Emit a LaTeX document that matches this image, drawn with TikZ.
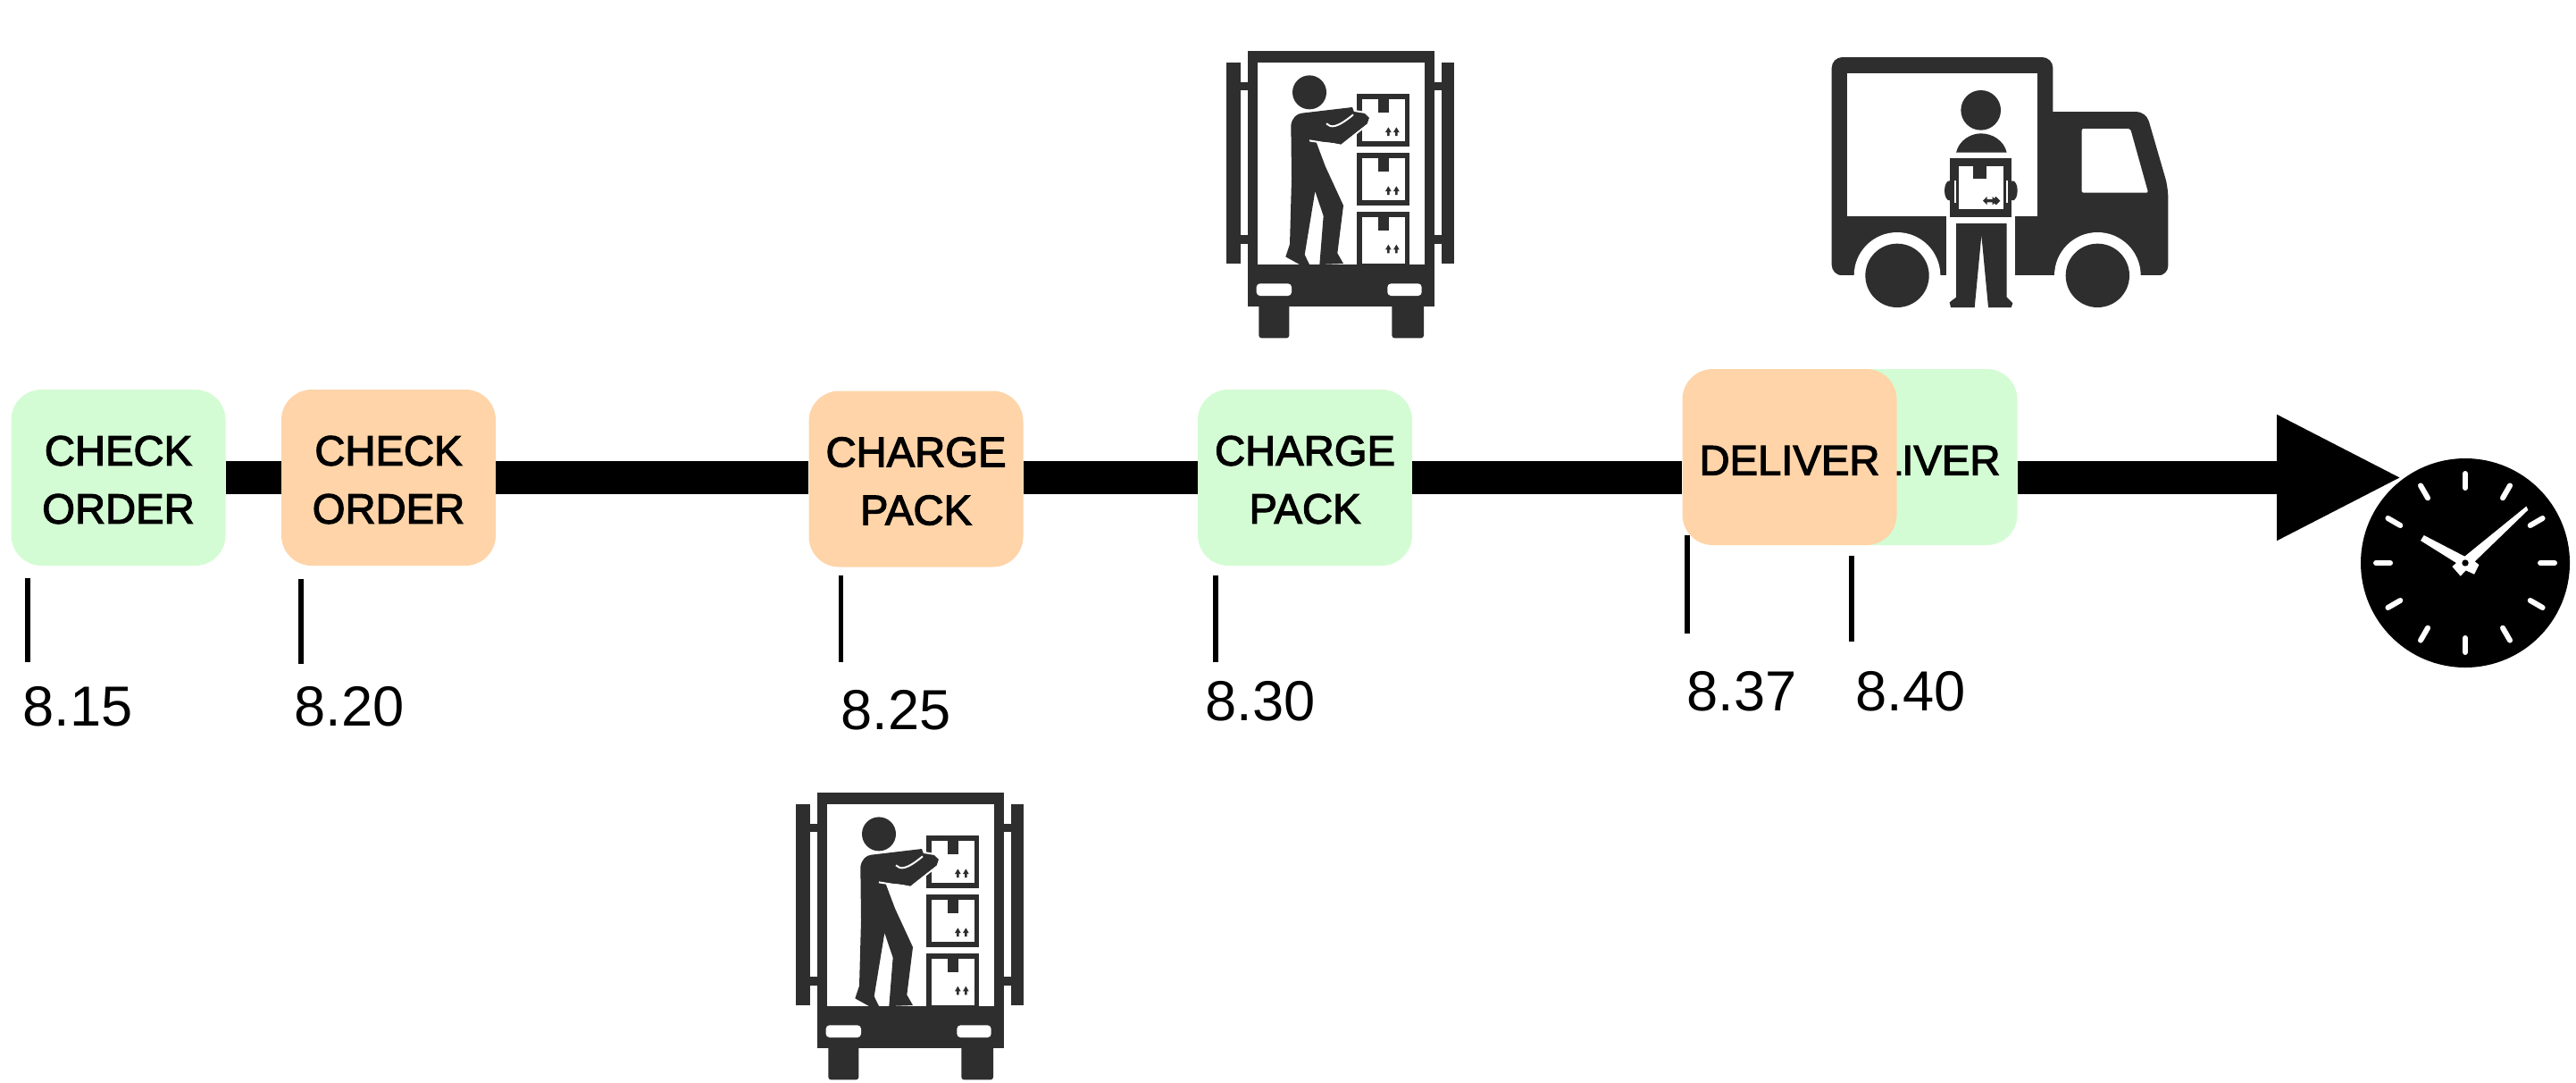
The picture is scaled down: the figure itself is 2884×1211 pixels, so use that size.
\documentclass[tikz,border=0pt]{standalone}
\usepackage{fontspec}
\setmainfont{Liberation Sans}
\usetikzlibrary{arrows.meta}
\definecolor{boxgreen}{RGB}{212,252,212}
\definecolor{boxorange}{RGB}{254,212,168}
\definecolor{icondark}{RGB}{46,46,46}
\newcommand{\topstrut}{\rule{0pt}{19pt}}
\newcommand{\heavy}[1]{\special{pdf:code 2 Tr 0.6 w}#1\special{pdf:code 0 Tr 1 w}}
\tikzset{
  taskbox/.style={minimum width=120pt,minimum height=98.5pt,inner sep=0pt,rounded corners=17pt,align=center,
    font=\fontsize{23.6}{32.5}\selectfont},
  greenbox/.style={taskbox,fill=boxgreen},
  orangebox/.style={taskbox,fill=boxorange},
  singleline/.style={text height=20pt},
  timebar/.style={line width=18.5pt,black},
  timetick/.style={line width=2.8pt,black},
  timelabel/.style={inner sep=0pt,font=\fontsize{31.6}{36}\selectfont},
  dark/.style={fill=icondark,draw=none},
  blank/.style={fill=white,draw=none},
  clocktick/.style={white,line width=3pt,line cap=round},
}
\newcommand{\boxarrows}[3]{%
  \fill[icondark] (#1-10,#2+2) -- (#1,#2-15) -- (#1+10,#2+2) -- (#1+4,#2+2) -- (#1+4,#2+14) -- (#1-4,#2+14) -- (#1-4,#2+2) -- cycle;
  \fill[icondark] (#3-10,#2+2) -- (#3,#2-15) -- (#3+10,#2+2) -- (#3+4,#2+2) -- (#3+4,#2+14) -- (#3-4,#2+14) -- (#3-4,#2+2) -- cycle;
}
\newcommand{\packicon}[2]{%
\begin{scope}[shift={(#1,#2)},x=.16667pt,y=-.16667pt]
  % door frame and body
  \fill[dark] (170,50) rectangle (798,910);
  \fill[blank] (205,90) rectangle (765,768);
  \fill[blank,rounded corners=2pt] (200,832) rectangle (318,873);
  \fill[blank,rounded corners=2pt] (640,832) rectangle (755,873);
  \fill[dark,rounded corners=1.5pt] (208,900) rectangle (310,1015);
  \fill[dark,rounded corners=1.5pt] (655,900) rectangle (762,1015);
  % side doors
  \fill[dark] (100,90) rectangle (148,765);
  \fill[dark] (148,155) rectangle (172,182);
  \fill[dark] (148,670) rectangle (172,698);
  \fill[dark] (822,90) rectangle (864,765);
  \fill[dark] (796,155) rectangle (822,182);
  \fill[dark] (796,670) rectangle (822,698);
  % stacked parcels
  \foreach \t in {195,392,590}{
    \fill[dark] (538,\t) rectangle (715,\t+178);
    \fill[blank] (555,\t+18) rectangle (698,\t+160);
    \fill[dark] (608,\t+18) rectangle (645,\t+64);
  }
  \fill[blank] (555,750) rectangle (698,766);
  \boxarrows{643}{322}{670}
  \boxarrows{643}{520}{670}
  \boxarrows{643}{716}{670}
  % worker
  \fill[dark] (378,190) circle[radius=57];
  \filldraw[icondark,draw=white,line width=1pt] (480,250) -- (530,252) -- (566,258) -- (582,275) -- (574,297) -- (485,368) -- (400,352) -- cycle;
  \fill[dark] (352,260) -- (522,240) -- (530,262) -- (480,285) -- (470,360) -- (400,355) -- (432,440) -- (492,570) -- (472,730) -- (492,765) -- (412,768) -- (425,605)
     -- (397,522) -- (362,735) -- (378,768) -- (345,768) -- (298,742) -- (312,700) -- (318,480)
     -- (316,300) .. controls (320,275) and (335,262) .. (352,260) -- cycle;
  \fill[dark] (460,280) -- (530,262) -- (562,262) -- (578,275) -- (572,295) -- (482,364) -- (440,355) -- cycle;
  \draw[white,line width=1pt] (435,295) .. controls (450,310) and (470,310) .. (525,265);
  \draw[white,line width=1pt] (378,352) -- (440,362);
\end{scope}}
\begin{document}
\begin{tikzpicture}[x=.5pt,y=-.5pt]
  \useasboundingbox (0,0) rectangle (2884,1211);
  % task boxes
  \node[greenbox]  (b1) at (132.5,534.5) {\topstrut\heavy{CHECK}\\\heavy{ORDER}};
  \node[orangebox] (b2) at (435,534.5)   {\topstrut\heavy{CHECK}\\\heavy{ORDER}};
  \node[orangebox] (b3) at (1025.5,536)  {\topstrut\heavy{CHARGE}\\\heavy{PACK}};
  \node[greenbox]  (b4) at (1461,534.5)  {\topstrut\heavy{CHARGE}\\\heavy{PACK}};
  \node[greenbox,singleline]  (g5) at (2138.5,511.5) {\heavy{DELIVER}};
  \node[orangebox,singleline] (o5) at (2003.5,511.5) {\heavy{DELIVER}};
  % clock
  \node[circle,fill=black,inner sep=0pt,minimum size=117pt] (clock) at (2760,630) {};
  \coordinate (tip) at (2690,534.5);
  % time line
  \draw[timebar] (b1.east) -- (b1.east -| b2.west);
  \draw[timebar] (b1.east -| b2.east) -- (b1.east -| b3.west);
  \draw[timebar] (b1.east -| b3.east) -- (b1.east -| b4.west);
  \draw[timebar] (b4.east) -- (b4.east -| o5.west);
  \draw[timebar,-{Triangle[length=70.5pt,width=65pt]}] (b4.east -| g5.east) -- (tip);
  % ticks and times
  \coordinate (t1a) at (31,647);    \coordinate (t1b) at (31,741);
  \coordinate (t2a) at (337,648);   \coordinate (t2b) at (337,743);
  \coordinate (t3a) at (941.5,644); \coordinate (t3b) at (941.5,741);
  \coordinate (t4a) at (1361,644);  \coordinate (t4b) at (1361,741);
  \coordinate (t5a) at (1889,599);  \coordinate (t5b) at (1889,709);
  \coordinate (t6a) at (2073,622);  \coordinate (t6b) at (2073,718);
  \draw[timetick] (t1a) -- (t1b);
  \draw[timetick] (t2a) -- (t2b);
  \draw[timetick] (t3a) -- (t3b);
  \draw[timetick] (t4a) -- (t4b);
  \draw[timetick] (t5a) -- (t5b);
  \draw[timetick] (t6a) -- (t6b);
  \node[timelabel] (l1) at (87,791)   {8.15};
  \node[timelabel] (l2) at (391,791)  {8.20};
  \node[timelabel] (l3) at (1003,795) {8.25};
  \node[timelabel] (l4) at (1411,785) {8.30};
  \node[timelabel] (l5) at (1950,774) {8.37};
  \node[timelabel] (l6) at (2139,774) {8.40};
  % clock face
  \foreach \a in {0,30,...,330}
    \draw[clocktick] ([shift={(\a:84)}]clock.center) -- ([shift={(\a:100)}]clock.center);
  \begin{scope}[shift={(2520,450)},x=.16667pt,y=-.16667pt]
    \fill[white] (581,447) -- (718,518) -- (925,350) -- (931,362) -- (752,535) -- (766,546) -- (750,578)
      -- (722,565) -- (704,584) -- (676,552) -- (690,540) -- (570,465) -- cycle;
    \fill[black] (720,540) circle[radius=11];
  \end{scope}
  % workers loading
  \packicon{1340}{40}
  \packicon{858}{870}
  % delivery truck
  \begin{scope}[shift={(2020,50)},x=.16667pt,y=-.16667pt]
    \fill[dark,rounded corners=6pt] (92,42) rectangle (835,775);
    \fill[dark,rounded corners=5.5pt] (700,225) -- (1148,225) -- (1222,480) -- (1222,775) -- (700,775) -- cycle;
    \fill[blank] (145,95) rectangle (782,577);
    \fill[blank,rounded corners=1pt] (932,282) -- (1095,282) -- (1155,497) -- (932,497) -- cycle;
    \fill[blank] (312,775) circle[radius=145];
    \fill[blank] (985,775) circle[radius=145];
    \fill[blank] (100,775) rectangle (1230,900);
    \fill[dark] (312,775) circle[radius=107];
    \fill[dark] (985,775) circle[radius=107];
    \fill[blank] (478,577) rectangle (708,790);
    \fill[dark] (593,220) circle[radius=67];
    \fill[dark] (510,362) .. controls (520,320) and (560,298) .. (593,298) .. controls (630,298) and (670,320) .. (680,362) -- cycle;
    \fill[dark] (490,380) rectangle (697,578);
    \fill[blank] (518,408) rectangle (668,552);
    \fill[dark] (568,408) rectangle (612,450);
    \fill[dark] (487,490) ellipse[x radius=16,y radius=33];
    \fill[dark] (700,490) ellipse[x radius=16,y radius=33];
    \fill[blank] (505,455) rectangle (518,530);
    \fill[blank] (668,455) rectangle (683,530);
    \fill[dark] (510,380) rectangle (518,578);
    \fill[dark] (668,380) rectangle (677,578);
    \fill[dark] (510,600) -- (680,600) -- (680,848) -- (700,868) -- (695,882) -- (618,882) -- (595,640)
       -- (572,882) -- (492,882) -- (488,865) -- (510,848) -- cycle;
    \fill[icondark] (600,524) -- (614,510) -- (614,519) -- (632,519) -- (632,510) -- (646,524) -- (632,538) -- (632,529) -- (614,529) -- (614,538) -- cycle;
    \fill[icondark] (630,524) -- (644,510) -- (658,524) -- (644,538) -- cycle;
  \end{scope}
\end{tikzpicture}
\end{document}
